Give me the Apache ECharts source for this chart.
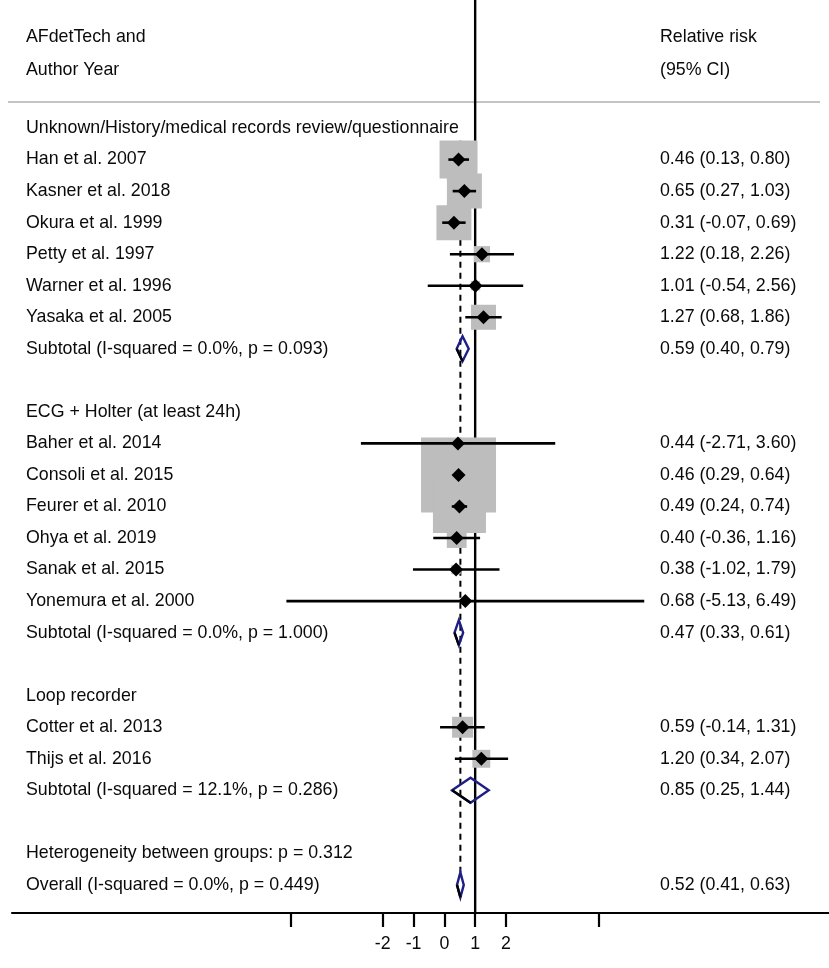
<!DOCTYPE html>
<html>
<head>
<meta charset="utf-8">
<script src="https://cdn.jsdelivr.net/npm/echarts@6/dist/echarts.min.js"></script>
<style>
  html, body { margin: 0; padding: 0; background: #fff; }
  #chart { width: 829px; height: 968px; }
</style>
</head>
<body>
<div id="chart"></div>
<script>
// ---------------- DATA ----------------
const rowLabels = [
  "Unknown/History/medical records review/questionnaire",
  "Han et al. 2007",
  "Kasner et al. 2018",
  "Okura et al. 1999",
  "Petty et al. 1997",
  "Warner et al. 1996",
  "Yasaka et al. 2005",
  "Subtotal (I-squared = 0.0%, p = 0.093)",
  "",
  "ECG + Holter (at least 24h)",
  "Baher et al. 2014",
  "Consoli et al. 2015",
  "Feurer et al. 2010",
  "Ohya et al. 2019",
  "Sanak et al. 2015",
  "Yonemura et al. 2000",
  "Subtotal (I-squared = 0.0%, p = 1.000)",
  "",
  "Loop recorder",
  "Cotter et al. 2013",
  "Thijs et al. 2016",
  "Subtotal (I-squared = 12.1%, p = 0.286)",
  "",
  "Heterogeneity between groups: p = 0.312",
  "Overall (I-squared = 0.0%, p = 0.449)"
];
const rowKinds = [
  "group","study","study","study","study","study","study","pooled","blank",
  "group","study","study","study","study","study","study","pooled","blank",
  "group","study","study","pooled","blank",
  "text","pooled"
];
const estimates = [null,0.46,0.65,0.31,1.22,1.01,1.27,0.59,null,
  null,0.44,0.46,0.49,0.40,0.38,0.68,0.47,null,
  null,0.59,1.20,0.85,null,
  null,0.52];
const lowerCI = [null,0.13,0.27,-0.07,0.18,-0.54,0.68,0.40,null,
  null,-2.71,0.29,0.24,-0.36,-1.02,-5.13,0.33,null,
  null,-0.14,0.34,0.25,null,
  null,0.41];
const upperCI = [null,0.80,1.03,0.69,2.26,2.56,1.86,0.79,null,
  null,3.60,0.64,0.74,1.16,1.79,6.49,0.61,null,
  null,1.31,2.07,1.44,null,
  null,0.63];
// study weights (%)
const weights = [null,9.9,8.4,8.4,1.8,0.6,4.3,null,null,
  null,0.1,38.6,19.3,2.7,0.6,0.1,null,null,
  null,3.0,2.2,null,null,
  null,null];
const headerLeft = ["AFdetTech and", "Author Year"];
const headerRight = ["Relative risk", "(95% CI)"];
const nullValue = 1;
const xTickValues = [-5,-2,-1,0,1,2,5];
const xLabelValues = [-2,-1,0,1,2];

// ---------------- LAYOUT / STYLE ----------------
const FONT = '17.8px "Liberation Sans", Arial, sans-serif';
const BOX_SCALE = 12.07;     // px per sqrt(weight)
const DIAMOND_HALF_H = 12.5; // pooled diamond half height (px)
const MARK_HALF = 7;         // study estimate marker half size
const NAVY = '#1e1e86';
const GREY = '#bdbdbd';
const RIGHT_COL_X = 7.0;     // axis value where the CI text column starts
const LEFT_TEXT_PX = 26;

const overallIdx = rowKinds.lastIndexOf("pooled");
const rows = rowLabels.map((lab, i) => [i, estimates[i], lowerCI[i], upperCI[i], weights[i], rowKinds[i]]);
const fmt = v => v.toFixed(2);

const chart = echarts.init(document.getElementById('chart'), null, { renderer: 'canvas' });

function boxesRender(params, api) {
  const i = api.value(0);
  const r = rows[i];
  if (r[5] !== 'study' || r[4] == null) return null;
  const c = api.coord([r[1], i]);
  const s = BOX_SCALE * Math.sqrt(r[4]);
  return { type: 'rect', shape: { x: c[0] - s / 2, y: c[1] - s / 2, width: s, height: s },
    style: { fill: GREY } };
}
function ciRender(params, api) {
  const i = api.value(0);
  const r = rows[i];
  if (r[5] !== 'study') return null;
  const a = api.coord([r[2], i]), b = api.coord([r[3], i]), c = api.coord([r[1], i]);
  return { type: 'group', children: [
    { type: 'line', shape: { x1: a[0], y1: a[1], x2: b[0], y2: b[1] },
      style: { stroke: '#000', lineWidth: 2.6 } },
    { type: 'polygon', shape: { points: [[c[0]-MARK_HALF, c[1]], [c[0], c[1]-MARK_HALF], [c[0]+MARK_HALF, c[1]], [c[0], c[1]+MARK_HALF]] },
      style: { fill: '#000' } }
  ] };
}
function pooledRender(params, api) {
  const i = api.value(0);
  const r = rows[i];
  if (r[5] !== 'pooled') return null;
  const a = api.coord([r[2], i]), b = api.coord([r[3], i]), c = api.coord([r[1], i]);
  return { type: 'group', children: [
    { type: 'polygon', shape: { points: [[a[0], a[1]], [c[0], c[1]-DIAMOND_HALF_H], [b[0], b[1]], [c[0], c[1]+DIAMOND_HALF_H]] },
      style: { fill: 'none', stroke: NAVY, lineWidth: 2.4, lineJoin: 'miter' } },
    { type: 'line', shape: { x1: a[0], y1: a[1], x2: c[0], y2: c[1]+DIAMOND_HALF_H },
      style: { stroke: '#000', lineWidth: 2.4 } }
  ] };
}
function textRender(params, api) {
  const i = api.value(0);
  const r = rows[i];
  const y = api.coord([0, i])[1];
  const children = [];
  if (rowLabels[i]) {
    children.push({ type: 'text', style: { text: rowLabels[i], x: LEFT_TEXT_PX, y: y,
      font: FONT, fill: '#0a0a0a', align: 'left', verticalAlign: 'middle' } });
  }
  if (r[1] != null) {
    const x = api.coord([RIGHT_COL_X, i])[0];
    children.push({ type: 'text', style: { text: fmt(r[1]) + ' (' + fmt(r[2]) + ', ' + fmt(r[3]) + ')',
      x: x, y: y, font: FONT, fill: '#0a0a0a', align: 'left', verticalAlign: 'middle' } });
  }
  return { type: 'group', children };
}
function refLinesRender(params, api) {
  const cs = params.coordSys;
  const nx = api.coord([nullValue, 0])[0];
  const ox = api.coord([estimates[overallIdx], 0])[0];
  const yTop = api.coord([0, 0.4])[1];
  const yBot = api.coord([0, overallIdx - 0.4])[1];
  return { type: 'group', children: [
    { type: 'line', shape: { x1: ox, y1: yTop, x2: ox, y2: yBot },
      style: { stroke: '#000', lineWidth: 2, lineDash: [6, 5] } },
    { type: 'line', shape: { x1: nx, y1: cs.y, x2: nx, y2: cs.y + cs.height },
      style: { stroke: '#000', lineWidth: 2.4 } }
  ] };
}

const option = {
  backgroundColor: '#fff',
  animation: false,
  grid: { left: 12, right: 0, top: 0, bottom: 55, containLabel: false },
  xAxis: {
    type: 'value', min: -14.04, max: 12.49,
    splitLine: { show: false },
    axisLine: { show: true, onZero: false, lineStyle: { color: '#000', width: 2.2 } },
    axisTick: { show: true, length: 14, customValues: xTickValues, lineStyle: { color: '#000', width: 2.2 } },
    axisLabel: { show: true, customValues: xLabelValues, margin: 22, color: '#0a0a0a',
      fontSize: 17.8, fontFamily: '"Liberation Sans", Arial, sans-serif' }
  },
  yAxis: { type: 'value', inverse: true, min: -4.06, max: 24.89, show: false },
  graphic: [
    { type: 'line', shape: { x1: 8, y1: 102, x2: 820, y2: 102 }, style: { stroke: '#c4c4c4', lineWidth: 2 } },
    { type: 'text', style: { text: headerLeft[0], x: LEFT_TEXT_PX, y: 37, font: FONT, fill: '#0a0a0a', verticalAlign: 'middle' } },
    { type: 'text', style: { text: headerLeft[1], x: LEFT_TEXT_PX, y: 70, font: FONT, fill: '#0a0a0a', verticalAlign: 'middle' } },
    { type: 'text', style: { text: headerRight[0], x: 660, y: 37, font: FONT, fill: '#0a0a0a', verticalAlign: 'middle' } },
    { type: 'text', style: { text: headerRight[1], x: 660, y: 70, font: FONT, fill: '#0a0a0a', verticalAlign: 'middle' } }
  ],
  series: [
    { type: 'custom', z: 1, renderItem: refLinesRender, data: [[0]], clip: false },
    { type: 'custom', z: 2, renderItem: boxesRender, data: rows.map(r => [r[0]]) },
    { type: 'custom', z: 3, renderItem: ciRender, data: rows.map(r => [r[0]]) },
    { type: 'custom', z: 4, renderItem: pooledRender, data: rows.map(r => [r[0]]) },
    { type: 'custom', z: 5, renderItem: textRender, data: rows.map(r => [r[0]]), clip: false }
  ]
};
chart.setOption(option);
</script>
</body>
</html>
